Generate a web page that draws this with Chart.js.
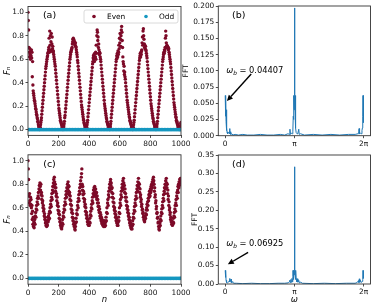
<!DOCTYPE html>
<html><head><meta charset="utf-8">
<script src="https://cdn.jsdelivr.net/npm/chart.js@4.4.1/dist/chart.umd.min.js"></script>
<style>
html,body{margin:0;padding:0;background:#fff;}
#wrap{position:relative;width:374px;height:308px;overflow:hidden;background:#fff;}
canvas{position:absolute;}
</style></head><body>
<div id="wrap">
<canvas id="ca" width="192" height="150" style="left:0px;top:0px;width:192px;height:150px"></canvas>
<canvas id="cb" width="194" height="150" style="left:180px;top:0px;width:194px;height:150px"></canvas>
<canvas id="cc" width="192" height="158" style="left:0px;top:150px;width:192px;height:158px"></canvas>
<canvas id="cd" width="194" height="158" style="left:180px;top:150px;width:194px;height:158px"></canvas>
</div>
<script>
// ---------------- DATA ----------------
// Even-site values F_n, n = 0,2,4,...,1000 (panel a)
const evenA = [
1.00,0.93,0.85,0.70,0.66,0.62,0.69,0.64,0.60,0.67,0.63,0.68,0.61,0.66,0.45,0.58,0.38,0.33,0.31,0.29,0.27,0.25,0.24,0.22,0.20,0.18,0.17,0.15,0.13,0.12,0.10,0.09,0.07,0.06,0.04,0.03,0.02,0.01,0.00,
0.01,0.02,0.04,0.06,0.08,0.10,0.13,0.16,0.19,0.22,0.25,0.28,0.31,0.34,0.37,0.40,0.43,0.46,0.49,0.52,0.54,0.56,0.58,0.60,0.62,0.63,0.65,0.66,0.68,
0.70,0.78,0.66,0.84,0.72,0.80,0.68,0.75,0.82,0.67,0.73,0.79,0.69,0.71,0.66,0.67,
0.64,0.62,0.60,0.58,0.56,0.54,0.51,0.48,0.45,0.42,0.39,0.36,0.33,0.30,0.27,0.24,0.21,0.18,0.16,0.14,0.12,0.10,0.08,0.07,0.06,0.05,0.04,0.03,0.02,0.01,0.00,
0.01,0.02,0.03,0.05,0.07,0.10,0.12,0.15,0.18,0.21,0.24,0.27,0.30,0.33,0.36,0.39,0.42,0.45,0.48,0.51,0.54,0.57,0.60,0.62,0.64,0.66,0.67,0.68,0.69,
0.70,0.73,0.75,0.77,0.78,0.77,0.76,0.74,0.75,0.73,0.72,0.74,0.71,0.70,0.68,0.66,
0.64,0.62,0.59,0.57,0.54,0.51,0.48,0.45,0.42,0.39,0.36,0.33,0.30,0.27,0.24,0.21,0.19,0.17,0.15,0.13,0.11,0.09,0.08,0.06,0.05,0.04,0.03,0.02,0.01,0.01,0.00,
0.01,0.02,0.04,0.06,0.08,0.11,0.14,0.17,0.20,0.23,0.26,0.29,0.32,0.35,0.38,0.41,0.44,0.47,0.50,0.53,0.56,0.58,0.61,0.63,0.60,0.64,0.58,0.65,0.62,
0.62,0.66,0.60,0.72,0.65,0.80,0.85,0.83,0.76,0.79,0.70,0.73,0.68,0.64,0.66,0.65,
0.62,0.60,0.58,0.55,0.52,0.49,0.46,0.43,0.40,0.37,0.34,0.31,0.28,0.25,0.22,0.20,0.18,0.16,0.14,0.12,0.10,0.09,0.07,0.06,0.05,0.04,0.03,0.02,0.01,0.01,0.00,
0.01,0.02,0.03,0.05,0.07,0.10,0.13,0.16,0.19,0.22,0.25,0.28,0.31,0.34,0.37,0.40,0.43,0.46,0.49,0.52,0.55,0.58,0.60,0.63,0.61,0.65,0.62,0.67,0.64,
0.66,0.72,0.69,0.78,0.74,0.82,0.77,0.71,0.80,0.85,0.88,0.83,0.76,0.70,0.62,0.58,
0.56,0.50,0.54,0.47,0.49,0.45,0.43,0.40,0.37,0.34,0.31,0.28,0.25,0.23,0.21,0.19,0.17,0.15,0.13,0.11,0.10,0.08,0.07,0.06,0.05,0.04,0.03,0.02,0.01,0.01,0.00,
0.01,0.02,0.04,0.06,0.08,0.11,0.14,0.17,0.20,0.23,0.26,0.29,0.32,0.35,0.38,0.41,0.44,0.47,0.50,0.53,0.56,0.59,0.61,0.63,0.65,0.62,0.66,0.64,0.67,
0.68,0.74,0.79,0.72,0.84,0.86,0.80,0.77,0.73,0.70,0.72,0.69,0.71,0.68,0.67,0.65,
0.63,0.61,0.58,0.55,0.52,0.49,0.46,0.43,0.40,0.37,0.34,0.31,0.28,0.25,0.22,0.20,0.18,0.16,0.14,0.12,0.10,0.09,0.07,0.06,0.05,0.04,0.03,0.02,0.01,0.01,0.00,
0.01,0.02,0.03,0.05,0.07,0.10,0.13,0.16,0.19,0.22,0.25,0.28,0.31,0.34,0.37,0.40,0.43,0.46,0.49,0.52,0.55,0.58,0.60,0.62,0.64,0.66,0.65,0.68,0.67,
0.70,0.78,0.84,0.80,0.74,0.71,0.72,0.70,0.71,0.69,0.70,0.68,0.69,0.66,0.64,0.62,
0.60,0.58,0.56,0.53,0.50,0.47,0.44,0.41,0.38,0.35,0.32,0.29,0.26,0.23,0.21,0.19,0.17,0.15,0.13,0.11,0.10,0.08,0.07,0.06,0.05,0.04,0.03,0.02,0.01,0.01,0.00,
0.01,0.01,0.02,0.03,0.05,0.06
];
// Even-site values F_n, n = 0,2,4,...,1000 (panel c)
const evenC = [
1.00,0.93,0.84,0.70,0.64,0.72,0.66,0.62,0.69,0.63,0.67,0.60,0.55,0.62,0.50,0.57,0.46,0.52,0.44,0.48,
0.43,0.47,0.50,0.46,0.53,0.56,0.52,0.59,0.62,0.58,0.65,0.68,0.63,0.70,0.73,0.68,0.76,0.79,0.74,0.81,0.78,
0.75,0.80,0.71,0.73,0.67,0.70,0.64,0.66,0.60,0.62,0.57,0.59,0.53,0.55,0.50,0.52,0.47,0.49,0.45,0.47,0.44,0.46,
0.45,0.49,0.52,0.48,0.53,0.50,0.55,0.51,0.57,0.60,0.56,0.63,0.66,0.61,0.69,0.72,0.67,0.75,0.78,0.73,0.81,0.84,0.79,0.86,0.82,0.77,0.80,
0.74,0.77,0.70,0.72,0.66,0.69,0.62,0.64,0.58,0.61,0.55,0.57,0.51,0.54,0.48,0.50,0.45,0.47,0.43,0.46,0.42,0.44,
0.47,0.50,0.46,0.53,0.56,0.52,0.59,0.62,0.58,0.65,0.68,0.63,0.71,0.74,0.69,0.77,0.72,0.80,0.76,0.82,0.79,0.74,0.78,0.71,
0.73,0.67,0.70,0.63,0.66,0.59,0.62,0.56,0.58,0.52,0.55,0.49,0.51,0.46,0.48,0.44,0.46,0.42,0.41,0.44,
0.47,0.51,0.48,0.55,0.58,0.54,0.62,0.65,0.60,0.68,0.71,0.66,0.74,0.77,0.72,0.80,0.83,0.78,0.86,0.89,0.93,
0.80,0.75,0.78,0.71,0.74,0.68,0.72,0.65,0.67,0.61,0.63,0.57,0.60,0.54,0.56,0.51,0.53,0.48,0.50,0.46,0.48,0.45,0.47,0.45,
0.48,0.51,0.47,0.54,0.57,0.53,0.60,0.63,0.59,0.66,0.69,0.64,0.72,0.75,0.70,0.77,0.73,0.78,0.74,0.71,0.76,0.72,
0.69,0.73,0.67,0.70,0.64,0.67,0.61,0.64,0.58,0.61,0.56,0.59,0.53,0.56,0.51,0.54,0.49,0.52,0.47,0.50,0.46,0.49,0.45,0.48,0.44,0.47,0.45,0.49,0.44,0.47,0.45,
0.48,0.52,0.49,0.56,0.60,0.55,0.64,0.67,0.62,0.71,0.74,0.69,0.77,0.80,0.75,0.82,0.84,0.79,0.81,0.76,
0.73,0.77,0.69,0.72,0.65,0.68,0.61,0.64,0.58,0.60,0.55,0.57,0.52,0.54,0.49,0.51,0.47,0.49,0.45,0.47,0.45,
0.48,0.52,0.49,0.56,0.60,0.55,0.64,0.67,0.62,0.71,0.74,0.69,0.77,0.80,0.75,0.83,0.78,0.85,0.81,0.76,0.79,
0.73,0.76,0.69,0.72,0.66,0.69,0.62,0.65,0.59,0.61,0.56,0.58,0.53,0.55,0.50,0.52,0.47,0.49,0.45,0.47,0.43,0.45,0.42,0.44,0.42,
0.45,0.49,0.46,0.52,0.55,0.51,0.58,0.61,0.57,0.64,0.67,0.62,0.70,0.73,0.68,0.76,0.79,0.74,0.82,0.78,0.85,0.81,0.77,0.80,
0.73,0.76,0.69,0.71,0.65,0.67,0.61,0.63,0.58,0.59,0.55,0.56,0.52,0.53,0.50,0.49,0.48,
0.50,0.53,0.51,0.55,0.58,0.54,0.60,0.63,0.58,0.65,0.62,0.68,0.66,0.71,0.69,0.74,0.72,0.70,0.76,0.73,0.78,0.75,0.80,0.77,0.82,0.79,0.84,0.81,0.86,0.83,0.80,
0.74,0.77,0.69,0.71,0.64,0.66,0.59,0.61,0.55,0.56,0.51,0.52,0.47,0.48,0.44,0.42,0.41,
0.44,0.47,0.45,0.50,0.53,0.49,0.56,0.59,0.55,0.62,0.65,0.60,0.68,0.71,0.66,0.74,0.77,0.72,0.80,0.76,0.83,0.79,0.85,0.81,0.77,0.80,
0.72,0.75,0.67,0.70,0.62,0.65,0.58,0.60,0.54,0.56,0.50,0.52,0.48,0.49,0.46,0.47,0.45,0.46,
0.48,0.51,0.47,0.53,0.56,0.52,0.59,0.62,0.57,0.64,0.67,0.62,0.70,0.73,0.68,0.75,0.78,0.73,0.80,0.77,0.82,0.79,0.84,0.81,0.85,0.83,0.82
];
const evenStep = 2; // even sites n = 0, 2, 4, ...
// Odd sites (all zero), sampled
const oddN = [1,11,21,31,41,51,61,71,81,91,101,111,121,131,141,151,161,171,181,191,201,211,221,231,241,251,261,271,281,291,301,311,321,331,341,351,361,371,381,391,401,411,421,431,441,451,461,471,481,491,501,511,521,531,541,551,561,571,581,591,601,611,621,631,641,651,661,671,681,691,701,711,721,731,741,751,761,771,781,791,801,811,821,831,841,851,861,871,881,891,901,911,921,931,941,951,961,971,981,991,999];
const oddF = [0,0,0,0,0,0,0,0,0,0,0,0,0,0,0,0,0,0,0,0,0,0,0,0,0,0,0,0,0,0,0,0,0,0,0,0,0,0,0,0,0,0,0,0,0,0,0,0,0,0,0,0,0,0,0,0,0,0,0,0,0,0,0,0,0,0,0,0,0,0,0,0,0,0,0,0,0,0,0,0,0,0,0,0,0,0,0,0,0,0,0,0,0,0,0,0,0,0,0,0,0];

// FFT spectrum, panel b
const omegaB = [0,0.013,0.025,0.038,0.050,0.063,0.075,0.088,0.10,0.126,0.151,0.176,0.201,0.214,0.226,0.251,0.30,0.35,0.45,0.60,0.80,1.0,1.3,1.6,1.9,2.2,2.5,2.7,2.85,2.92,2.94,2.96,3.00,3.04,3.07,3.09,3.10,3.11,3.12,3.13,3.1416,3.154,3.167,3.18,3.19,3.20,3.22,3.26,3.30,3.34,3.36,3.42,3.6,4.0,4.4,4.8,5.2,5.6,5.9,6.03,6.06,6.08,6.10,6.15,6.18,6.21,6.23,6.245,6.258,6.270,6.283];
const fftB   = [0.062,0.030,0.062,0.022,0.040,0.008,0.012,0.004,0.006,0.003,0.005,0.004,0.011,0.003,0.006,0.002,0.003,0.001,0.002,0.001,0.002,0.001,0.001,0.002,0.001,0.001,0.002,0.001,0.003,0.002,0.010,0.002,0.004,0.003,0.006,0.030,0.062,0.025,0.062,0.040,0.197,0.045,0.062,0.028,0.062,0.012,0.005,0.003,0.004,0.010,0.002,0.003,0.001,0.002,0.001,0.002,0.001,0.002,0.002,0.003,0.006,0.011,0.003,0.004,0.003,0.008,0.012,0.030,0.062,0.020,0.040];
// FFT spectrum, panel d
const omegaD = [0,0.013,0.025,0.038,0.050,0.075,0.10,0.15,0.19,0.201,0.214,0.24,0.264,0.28,0.31,0.35,0.38,0.5,0.8,1.2,1.6,2.0,2.4,2.7,2.85,2.90,2.93,2.95,2.98,3.00,3.03,3.05,3.07,3.08,3.09,3.10,3.11,3.12,3.13,3.1416,3.154,3.167,3.18,3.19,3.20,3.21,3.22,3.25,3.28,3.30,3.34,3.37,3.43,3.5,4.0,4.5,5.0,5.5,5.9,5.98,6.02,6.05,6.07,6.09,6.11,6.14,6.18,6.22,6.245,6.258,6.270,6.283];
const fftD   = [0.037,0.018,0.037,0.010,0.006,0.004,0.003,0.005,0.009,0.015,0.006,0.008,0.013,0.004,0.006,0.005,0.002,0.002,0.001,0.002,0.001,0.001,0.002,0.002,0.003,0.006,0.010,0.004,0.012,0.005,0.015,0.006,0.020,0.037,0.012,0.037,0.020,0.037,0.025,0.318,0.025,0.037,0.018,0.037,0.012,0.037,0.015,0.006,0.014,0.005,0.010,0.003,0.005,0.002,0.001,0.002,0.001,0.002,0.002,0.004,0.006,0.009,0.004,0.014,0.005,0.010,0.004,0.007,0.012,0.037,0.015,0.037];

// Ticks
const nTicks = [0,200,400,600,800,1000];
const nTickLabels = ['0','200','400','600','800','1000'];
const fTicks = [0,0.2,0.4,0.6,0.8,1.0];
const fTickLabels = ['0.0','0.2','0.4','0.6','0.8','1.0'];
const omegaTicks = [0, Math.PI, 2*Math.PI];
const omegaTickLabels = ['0','π','2π'];
const fftBTicks = [0,0.025,0.05,0.075,0.1,0.125,0.15,0.175,0.2];
const fftBTickLabels = ['0.000','0.025','0.050','0.075','0.100','0.125','0.150','0.175','0.200'];
const fftDTicks = [0,0.05,0.1,0.15,0.2,0.25,0.3,0.35];
const fftDTickLabels = ['0.00','0.05','0.10','0.15','0.20','0.25','0.30','0.35'];

const seriesNames = ['Even','Odd'];
const panelLabels = ['(a)','(b)','(c)','(d)'];
const omegaB_value = '0.04407';
const omegaD_value = '0.06925';

// ---------------- STYLE ----------------
const EVEN_COLOR = '#7d0a28';
const ODD_COLOR = '#1597c0';
const LINE_COLOR = '#1f77b4';
const FONT = "'DejaVu Sans', sans-serif";
Chart.defaults.font.family = FONT;
Chart.defaults.color = '#000';

function makeScale(o) {
  return {
    type: 'linear',
    position: o.axis === 'x' ? 'bottom' : 'left',
    min: o.min, max: o.max,
    afterBuildTicks: s => { s.ticks = o.ticks.map(v => ({ value: v })); },
    afterFit: s => {
      if (o.axis === 'x') { s.height = o.size; s.paddingLeft = 0; s.paddingRight = 0; }
      else { s.width = o.size; s.paddingTop = 0; s.paddingBottom = 0; }
    },
    grid: { display: true, drawOnChartArea: false, drawTicks: true, tickLength: 2.5, tickWidth: 0.8, color: '#222' },
    border: { display: false },
    ticks: { autoSkip: false, maxRotation: 0, minRotation: 0, padding: 1.5,
             font: { size: 7.4, family: FONT }, color: '#111',
             callback: (v, i) => o.labels[i] },
    title: o.title ? { display: true, text: o.title, color: '#000',
                       font: { size: o.titleSize || 7.5, style: o.italic ? 'italic' : 'normal', family: FONT },
                       padding: { top: o.titlePad, bottom: o.titlePad } } : { display: false }
  };
}

function arrow(ctx, x1, y1, x2, y2) {
  const ang = Math.atan2(y2 - y1, x2 - x1), L = 6, W = 2.8;
  const bx = x2 - L * Math.cos(ang), by = y2 - L * Math.sin(ang);
  ctx.strokeStyle = '#000'; ctx.fillStyle = '#000'; ctx.lineWidth = 1.4;
  ctx.beginPath(); ctx.moveTo(x1, y1); ctx.lineTo(bx, by); ctx.stroke();
  ctx.beginPath(); ctx.moveTo(x2, y2);
  ctx.lineTo(bx - W * Math.sin(ang), by + W * Math.cos(ang));
  ctx.lineTo(bx + W * Math.sin(ang), by - W * Math.cos(ang));
  ctx.closePath(); ctx.fill();
}

const decorPlugin = {
  id: 'decor',
  afterDraw(chart, args, opts) {
    const { ctx, chartArea: a, scales } = chart;
    ctx.save();
    // frame
    ctx.strokeStyle = '#333'; ctx.lineWidth = 0.9;
    ctx.strokeRect(a.left, a.top, a.right - a.left, a.bottom - a.top);
    // panel label
    ctx.fillStyle = '#000';
    ctx.font = '9.5px ' + FONT; ctx.textAlign = 'center'; ctx.textBaseline = 'middle';
    ctx.fillText(opts.label, a.left + opts.labelDx, a.top + opts.labelDy);
    // legend
    if (opts.legend) {
      const bx = a.right - 97, by = a.top + 3.5, bw = 94, bh = 13;
      ctx.fillStyle = 'rgba(255,255,255,0.85)'; ctx.strokeStyle = '#d0d0d0'; ctx.lineWidth = 0.8;
      ctx.beginPath(); ctx.roundRect(bx, by, bw, bh, 2); ctx.fill(); ctx.stroke();
      const ds = chart.data.datasets;
      const items = [[ds[0], 10, 23], [ds[1], 62, 75]];
      ctx.font = '7.4px ' + FONT; ctx.textAlign = 'left'; ctx.textBaseline = 'middle';
      for (const [d, mx, tx] of items) {
        ctx.fillStyle = d.pointBackgroundColor;
        ctx.beginPath(); ctx.arc(bx + mx, by + bh / 2, 1.8, 0, Math.PI * 2); ctx.fill();
        ctx.fillStyle = '#000'; ctx.fillText(d.label, bx + tx, by + bh / 2 + 0.3);
      }
    }
    // annotation
    if (opts.ann) {
      const X = scales.x, Y = scales.y, an = opts.ann;
      const tx = X.getPixelForValue(an.text[0]), ty = Y.getPixelForValue(an.text[1]);
      ctx.fillStyle = '#000'; ctx.textAlign = 'left'; ctx.textBaseline = 'middle';
      ctx.font = 'italic 8.3px ' + FONT; ctx.fillText('ω', tx, ty);
      let w = ctx.measureText('ω').width;
      ctx.font = 'italic 5.8px ' + FONT; ctx.fillText('b', tx + w, ty + 2.3);
      w += ctx.measureText('b').width;
      ctx.font = '8.3px ' + FONT; ctx.fillText(' = ' + an.value, tx + w, ty);
      arrow(ctx, X.getPixelForValue(an.tail[0]), Y.getPixelForValue(an.tail[1]),
                 X.getPixelForValue(an.head[0]), Y.getPixelForValue(an.head[1]));
    }
    ctx.restore();
  }
};

function scatterPanel(id, vals, pad, xSize, xTitle, yTitleLabel, label) {
  const evenData = vals.map((v, i) => ({ x: i * evenStep, y: v }));
  const oddData = oddN.map((n, i) => ({ x: n, y: oddF[i] }));
  return new Chart(document.getElementById(id), {
    type: 'scatter',
    data: { datasets: [
      { label: seriesNames[0], data: evenData, pointBackgroundColor: EVEN_COLOR, pointBorderColor: EVEN_COLOR,
        pointBorderWidth: 0, pointRadius: 1.7, order: 1 },
      { label: seriesNames[1], data: oddData, pointBackgroundColor: ODD_COLOR, pointBorderColor: ODD_COLOR,
        pointBorderWidth: 0, pointRadius: 1.9, order: 0 }
    ]},
    options: {
      responsive: false, animation: false, devicePixelRatio: 1, events: [],
      layout: { padding: pad },
      plugins: { legend: { display: false }, tooltip: { enabled: false },
                 decor: { label: label, labelDx: 21.5, labelDy: 9.5, legend: id === 'ca' } },
      scales: {
        x: makeScale({ axis: 'x', min: 0, max: 1000, ticks: nTicks, labels: nTickLabels, size: xSize,
                       title: xTitle, italic: true, titleSize: 8.5, titlePad: 2.9 }),
        y: makeScale({ axis: 'y', min: -0.05, max: 1.05, ticks: fTicks, labels: fTickLabels, size: 28,
                       title: yTitleLabel, italic: true, titleSize: 8.5, titlePad: 2.9 })
      }
    },
    plugins: [decorPlugin]
  });
}

function fftPanel(id, xs, ys, yTicks, yLabels, yMax, pad, xSize, xTitle, titlePad, label, ann) {
  return new Chart(document.getElementById(id), {
    type: 'scatter',
    data: { datasets: [
      { label: 'FFT', data: xs.map((x, i) => ({ x: x, y: ys[i] })), showLine: true, borderColor: LINE_COLOR,
        borderWidth: 1, pointRadius: 0, fill: false, tension: 0 }
    ]},
    options: {
      responsive: false, animation: false, devicePixelRatio: 1, events: [],
      layout: { padding: pad },
      plugins: { legend: { display: false }, tooltip: { enabled: false },
                 decor: { label: label, labelDx: 20.5, labelDy: 10, legend: false, ann: ann } },
      scales: {
        x: makeScale({ axis: 'x', min: -0.1 * Math.PI, max: 2.1 * Math.PI, ticks: omegaTicks, labels: omegaTickLabels,
                       size: xSize, title: xTitle, italic: true, titleSize: 8.5, titlePad: 2.9 }),
        y: makeScale({ axis: 'y', min: 0, max: yMax, ticks: yTicks, labels: yLabels, size: 38.3,
                       title: 'FFT', italic: false, titleSize: 7.5, titlePad: titlePad })
      }
    },
    plugins: [decorPlugin]
  });
}

scatterPanel('ca', evenA, { left: 0, right: 11, top: 6.5, bottom: 0 }, 14.6, null, 'Fₙ', panelLabels[0]);
fftPanel('cb', omegaB, fftB, fftBTicks, fftBTickLabels, 0.2, { left: 0, right: 3.5, top: 6, bottom: 0 }, 14.3, null, 1.5,
  panelLabels[1], { value: omegaB_value, text: [0.046, 0.100], tail: [1.18, 0.095], head: [0.077, 0.0535] });
scatterPanel('cc', evenC, { left: 0, right: 11, top: 4.8, bottom: 0 }, 23.8, 'n', 'Fₙ', panelLabels[2]);
fftPanel('cd', omegaD, fftD, fftDTicks, fftDTickLabels, 0.35, { left: 0, right: 3.5, top: 5, bottom: 0 }, 24, 'ω', 10.5,
  panelLabels[3], { value: omegaD_value, text: [0.046, 0.1077], tail: [1.04, 0.086], head: [0.12, 0.0534] });
</script>
</body></html>
